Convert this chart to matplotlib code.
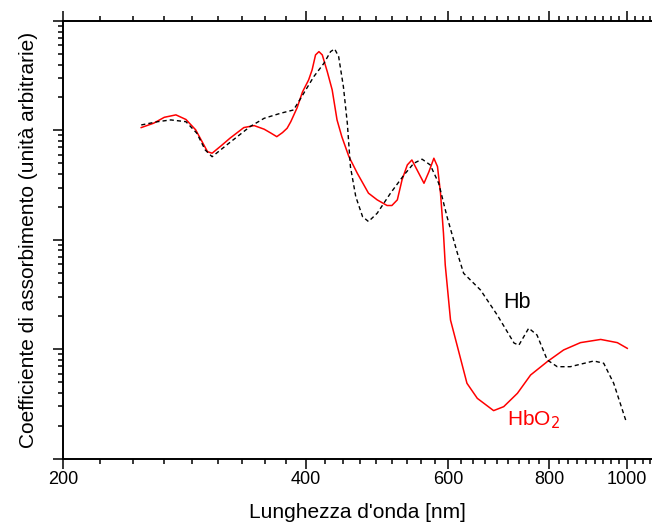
import numpy as np
import matplotlib
matplotlib.use("Agg")
import matplotlib.pyplot as plt
from matplotlib.ticker import FixedLocator, NullFormatter, FixedFormatter, LogLocator

plt.rcParams["font.family"] = ["Liberation Sans", "DejaVu Sans"]

# Oxy-haemoglobin (HbO2), arbitrary units
hbo2_wl = [250, 259, 267, 276, 284, 292, 302, 306, 314, 322, 335, 345, 355, 362, 368, 374,
           379, 383, 390, 396, 403, 407, 411, 415, 419, 425, 431, 437, 443, 452, 463, 478,
           490, 504, 511, 519, 526, 534, 541, 549, 560, 568, 576, 582, 587, 592, 595,
           598, 604, 616, 633, 652, 683, 703, 731, 759, 796, 834, 875, 927, 972, 1000]
hbo2_val = [1062, 1164, 1318, 1387, 1259, 1012, 640, 619, 724, 849, 1062, 1107, 1026, 944, 877, 955,
            1047, 1202, 1614, 2249, 2897, 3573, 4898, 5248, 4898, 3443, 2344, 1247, 877, 577, 406, 267,
            232, 206, 206, 232, 353, 484, 537, 436, 329, 420, 557, 467, 267, 115, 59,
            40, 18.5, 10.6, 4.89, 3.56, 2.75, 2.99, 3.96, 5.82, 7.71, 9.86, 11.5, 12.3, 11.5, 10.2]

# Deoxy-haemoglobin (Hb)
hb_wl = [250, 262, 272, 284, 293, 300, 306, 319, 341, 355, 372, 386, 394, 409,
         421, 429, 434, 439, 445, 450, 454, 461, 470, 478, 490, 509, 529, 544,
         557, 570, 584, 598, 616, 627, 658, 690, 724, 734, 755, 773, 796, 819,
         850, 909, 935, 962, 998]
hb_val = [1122, 1202, 1247, 1202, 942, 664, 575, 736, 1084, 1291, 1435, 1538, 1968, 3105,
          4111, 5248, 5559, 4732, 2512, 1164, 467, 248, 163, 147, 175, 267, 392, 501,
          546, 484, 329, 163, 75.5, 49.5, 34.8, 20.6, 11.4, 10.9, 15.6, 13.5, 7.98, 6.93,
          6.93, 7.82, 7.45, 4.89, 2.13]

x_major = [200, 400, 600, 800, 1000]
x_labels = ["200", "400", "600", "800", "1000"]

fig = plt.figure(figsize=(6.52, 5.24), dpi=100)
ax = fig.add_axes([63 / 652, 1 - 458.7 / 524, 589.5 / 652, 437.7 / 524])

ax.plot(hbo2_wl, hbo2_val, color="red", lw=1.1)
ax.plot(hb_wl, hb_val, color="black", lw=1.0, linestyle=(0, (3, 2.2)))

ax.set_xscale("log")
ax.set_yscale("log")
ax.set_xlim(200, 1074.6)
ax.set_ylim(1, 1e4)

# minor x ticks: 8 per 200 nm interval
minor = [v for v in np.arange(200, 1075, 200 / 9) if min(abs(v - m) for m in x_major) > 1]
ax.xaxis.set_major_locator(FixedLocator(x_major))
ax.xaxis.set_major_formatter(FixedFormatter(x_labels))
ax.xaxis.set_minor_locator(FixedLocator(minor))
ax.xaxis.set_minor_formatter(NullFormatter())
ax.yaxis.set_major_locator(LogLocator(base=10))
ax.yaxis.set_minor_locator(LogLocator(base=10, subs=np.arange(2, 10)))
ax.yaxis.set_major_formatter(NullFormatter())
ax.yaxis.set_minor_formatter(NullFormatter())

ax.spines["right"].set_visible(False)
for s in ["left", "bottom", "top"]:
    ax.spines[s].set_linewidth(1.4)
ax.tick_params(which="both", direction="out", top=True, right=False, width=1.1)
ax.tick_params(which="major", length=7, labelsize=13, pad=2)
ax.tick_params(which="minor", length=3.3)

ax.set_xlabel("Lunghezza d'onda [nm]", fontsize=15, labelpad=11)
ax.set_ylabel("Coefficiente di assorbimento (unità arbitrarie)", fontsize=15, labelpad=9)

ax.text(731, 26.5, "Hb", fontsize=15.5, color="black", ha="center", va="center")
ax.text(765, 2.26, "HbO$_2$", fontsize=15, color="red", ha="center", va="center")

fig.savefig("out.png", dpi=100)
